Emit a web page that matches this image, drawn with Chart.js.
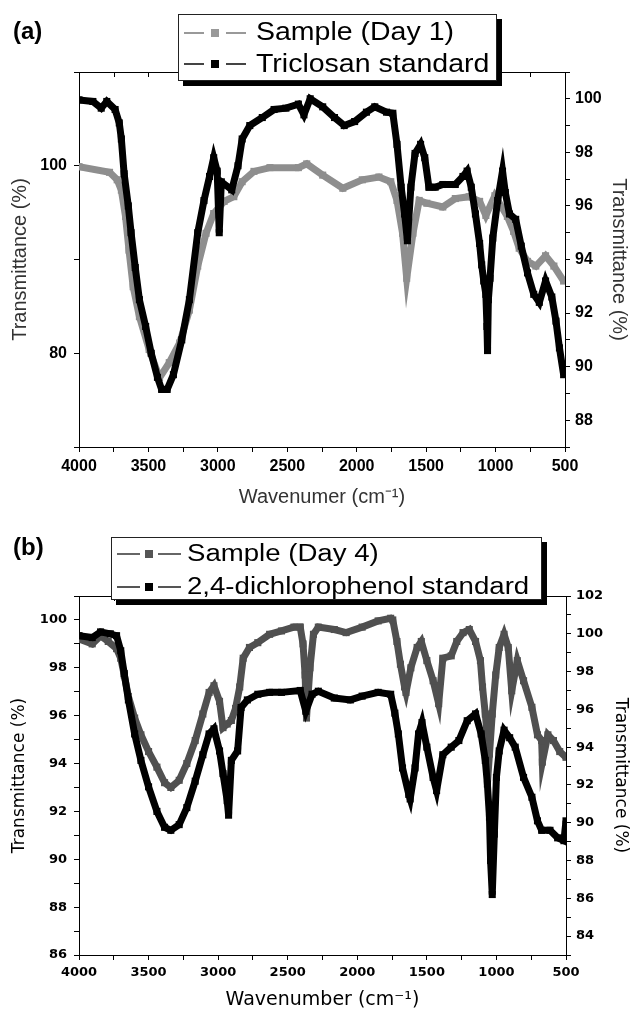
<!DOCTYPE html>
<html>
<head>
<meta charset="utf-8">
<script src="https://cdn.jsdelivr.net/npm/chart.js@4.4.0/dist/chart.umd.min.js"></script>
<style>
  body { margin: 0; background: #fff; width: 632px; height: 1011px; position: relative; overflow: hidden; font-family: "Liberation Sans", Arial, sans-serif; }
  canvas { position: absolute; left: 0; }
  #chartA { top: 0; }
  #chartB { top: 500px; }
  .tag { position: absolute; font-weight: bold; font-size: 24px; line-height: 1; color: #000; }
  .legend { position: absolute; box-sizing: border-box; background: #fff; border: 1px solid #222; box-shadow: 5px 5px 0 #000; z-index: 2; }
  .legend i { position: absolute; display: block; }
  .legend span { position: absolute; white-space: nowrap; line-height: 1; transform-origin: 0 0; color: #000; }
</style>
</head>
<body>
<canvas id="chartA" width="632" height="510"></canvas>
<canvas id="chartB" width="632" height="511"></canvas>

<div class="tag" style="left:13px; top:19px;">(a)</div>
<div class="tag" style="left:13px; top:535px;">(b)</div>

<div class="legend" style="left:178px; top:14px; width:319px; height:67px;">
  <i style="left:5px; top:17px; width:20px; height:1.5px; background:#999;"></i>
  <i style="left:32px; top:14px; width:8px; height:8px; background:#999;"></i>
  <i style="left:47px; top:17px; width:20px; height:1.5px; background:#999;"></i>
  <span style="left:77px; top:4px; font-size:25px; transform:scaleX(1.14);">Sample (Day 1)</span>
  <i style="left:5px; top:48px; width:20px; height:1.5px; background:#444;"></i>
  <i style="left:32px; top:45px; width:8px; height:8px; background:#000;"></i>
  <i style="left:47px; top:48px; width:20px; height:1.5px; background:#444;"></i>
  <span style="left:77px; top:36px; font-size:25px; transform:scaleX(1.14);">Triclosan standard</span>
</div>

<div class="legend" style="left:111px; top:537px; width:431px; height:63px;">
  <i style="left:5px; top:15px; width:23px; height:1.5px; background:#666;"></i>
  <i style="left:33px; top:12px; width:8px; height:8px; background:#555;"></i>
  <i style="left:46px; top:15px; width:23px; height:1.5px; background:#666;"></i>
  <span style="left:75px; top:4px; font-size:23px; transform:scaleX(1.2);">Sample (Day 4)</span>
  <i style="left:5px; top:48px; width:23px; height:1.5px; background:#555;"></i>
  <i style="left:33px; top:45px; width:8px; height:8px; background:#000;"></i>
  <i style="left:46px; top:48px; width:23px; height:1.5px; background:#555;"></i>
  <span style="left:75px; top:37px; font-size:23px; transform:scaleX(1.2);">2,4-dichlorophenol standard</span>
</div>

<script>
// panel (a): Sample (Day 1) on the left axis, triclosan standard on the right axis
const day1Wn = [4000, 3780, 3725, 3695, 3665, 3640, 3610, 3565, 3495, 3420, 3350, 3275, 3205, 3145, 3085, 3030, 2955, 2885, 2825, 2740, 2625, 2420, 2360, 2245, 2100, 1960, 1840, 1755, 1710, 1670, 1640, 1595, 1550, 1495, 1380, 1290, 1190, 1115, 1070, 1005, 915, 870, 830, 770, 710, 640, 580, 510];
const day1T = [99.9, 99.3, 98.5, 97.4, 94.6, 91.0, 87.1, 83.9, 80.4, 77.4, 79.0, 81.1, 84.6, 89.3, 92.8, 94.9, 96.2, 96.7, 98.3, 99.4, 99.8, 99.8, 100.2, 99.0, 97.6, 98.5, 98.8, 98.3, 96.3, 92.8, 88.0, 92.8, 96.3, 96.0, 95.6, 96.5, 96.7, 96.2, 94.7, 96.8, 94.6, 93.0, 91.2, 89.8, 89.3, 90.4, 89.3, 87.7];

const triclosanWn = [4000, 3900, 3840, 3800, 3740, 3710, 3695, 3675, 3645, 3625, 3595, 3565, 3520, 3480, 3435, 3405, 3365, 3320, 3260, 3205, 3145, 3100, 3060, 3030, 3005, 2990, 2975, 2900, 2855, 2825, 2770, 2680, 2595, 2510, 2420, 2380, 2335, 2245, 2160, 2090, 2015, 1930, 1870, 1785, 1740, 1710, 1680, 1655, 1635, 1610, 1580, 1540, 1510, 1480, 1435, 1380, 1290, 1235, 1205, 1175, 1145, 1115, 1100, 1085, 1070, 1062, 1058, 1052, 1040, 1020, 985, 950, 930, 900, 855, 815, 770, 725, 685, 640, 595, 565, 540, 510];
const triclosanT = [99.96, 99.9, 99.65, 99.9, 99.6, 99.1, 98.5, 97.2, 96.0, 95.0, 93.7, 92.5, 91.5, 90.5, 89.6, 89.15, 89.15, 89.7, 91.0, 92.5, 95.0, 96.2, 97.1, 97.8, 97.3, 95.0, 96.9, 96.6, 97.5, 98.5, 99.0, 99.3, 99.6, 99.65, 99.8, 99.4, 100.0, 99.7, 99.3, 99.0, 99.15, 99.5, 99.7, 99.5, 99.46, 98.3, 96.7, 95.7, 94.7, 96.7, 97.96, 98.3, 97.8, 96.7, 96.7, 96.8, 96.8, 97.1, 97.3, 96.7, 95.7, 94.6, 93.8, 93.2, 92.7, 91.5, 90.6, 92.5, 93.3, 94.8, 96.2, 97.3, 96.5, 95.7, 95.5, 94.5, 93.5, 92.7, 92.4, 93.2, 92.6, 91.7, 90.7, 89.7];

// panel (b): Sample (Day 4) on the left axis, 2,4-dichlorophenol standard on the right axis
const day4Wn = [4000, 3905, 3845, 3790, 3730, 3700, 3675, 3645, 3600, 3555, 3500, 3440, 3385, 3340, 3280, 3225, 3165, 3110, 3065, 3030, 2990, 2965, 2935, 2905, 2875, 2845, 2820, 2775, 2715, 2630, 2545, 2455, 2410, 2390, 2375, 2365, 2340, 2315, 2280, 2165, 2080, 1965, 1850, 1760, 1745, 1715, 1690, 1660, 1650, 1615, 1570, 1540, 1500, 1455, 1415, 1385, 1325, 1285, 1240, 1195, 1150, 1115, 1100, 1080, 1060, 1050, 1030, 1005, 980, 945, 915, 890, 850, 805, 745, 705, 675, 670, 630, 590, 545, 500];
const day4T = [99.2, 99.0, 99.33, 99.1, 98.8, 98.4, 97.7, 96.8, 95.9, 95.2, 94.5, 93.85, 93.2, 93.0, 93.3, 94.0, 94.96, 96.07, 96.97, 97.25, 96.6, 95.5, 95.65, 95.8, 96.3, 97.2, 98.4, 98.85, 99.05, 99.4, 99.54, 99.7, 99.7, 99.0, 97.7, 95.9, 98.0, 99.4, 99.7, 99.6, 99.47, 99.7, 99.96, 100.07, 100.0, 99.1, 98.15, 97.2, 96.97, 98.0, 98.85, 99.1, 98.3, 97.46, 96.5, 98.4, 98.5, 99.1, 99.47, 99.6, 99.1, 98.3, 97.2, 96.07, 94.8, 94.4, 96.07, 97.7, 98.85, 99.4, 98.85, 97.04, 98.3, 97.46, 96.35, 95.2, 94.96, 94.06, 95.2, 94.96, 94.5, 94.26];

const dcpWn = [4000, 3905, 3845, 3775, 3730, 3700, 3675, 3645, 3600, 3555, 3500, 3440, 3385, 3340, 3280, 3225, 3165, 3110, 3065, 3030, 2990, 2965, 2935, 2925, 2905, 2860, 2835, 2790, 2715, 2630, 2545, 2410, 2370, 2325, 2280, 2165, 2050, 1965, 1850, 1760, 1730, 1705, 1675, 1630, 1620, 1585, 1560, 1535, 1500, 1455, 1430, 1385, 1325, 1270, 1210, 1150, 1110, 1080, 1065, 1050, 1042, 1030, 1015, 1000, 980, 945, 905, 865, 805, 745, 705, 675, 615, 560, 515, 500];
const dcpT = [99.9, 99.8, 100.1, 100.0, 99.9, 99.1, 97.9, 96.5, 94.7, 93.3, 91.9, 90.6, 89.76, 89.6, 89.9, 90.8, 92.2, 93.6, 94.7, 94.97, 93.8, 92.6, 91.17, 90.4, 93.3, 93.8, 96.1, 96.5, 96.8, 96.9, 96.9, 97.0, 95.9, 96.8, 96.96, 96.6, 96.5, 96.7, 96.9, 96.8, 95.8, 94.7, 92.9, 91.5, 91.26, 92.9, 94.7, 95.3, 94.0, 92.4, 91.7, 93.6, 94.0, 94.35, 95.4, 95.76, 94.7, 93.3, 92.05, 90.3, 88.0, 86.2, 89.4, 92.4, 93.8, 94.9, 94.5, 94.0, 92.4, 91.35, 90.1, 89.6, 89.6, 89.2, 89.05, 90.1];

// labelled ticks
const wnTickLabels = [4000, 3500, 3000, 2500, 2000, 1500, 1000, 500];
const leftTicksA = [80, 100];
const rightTicksA = [88, 90, 92, 94, 96, 98, 100];
const leftTicksB = [86, 88, 90, 92, 94, 96, 98, 100];
const rightTicksB = [84, 86, 88, 90, 92, 94, 96, 98, 100, 102];

function pts(wn, t) {
  return wn.map((w, i) => ({ x: w, y: t[i] }));
}

// top frame line with inward ticks
const framePlugin = {
  id: "frame",
  afterDraw(chart) {
    const { ctx, chartArea: a, scales } = chart;
    const x = scales.x;
    ctx.save();
    ctx.strokeStyle = "#000";
    ctx.lineWidth = 1;
    ctx.beginPath();
    ctx.moveTo(a.left, a.top + 0.5);
    ctx.lineTo(a.right, a.top + 0.5);
    x.ticks.forEach((t) => {
      const px = Math.round(x.getPixelForValue(t.value)) + 0.5;
      ctx.moveTo(px, a.top);
      ctx.lineTo(px, a.top + 5);
    });
    ctx.stroke();
    ctx.restore();
  },
};

function series(label, data, color, axis, order) {
  return {
    label: label,
    data: data,
    yAxisID: axis,
    borderColor: color,
    backgroundColor: color,
    borderWidth: 7,
    pointStyle: "rect",
    pointRadius: 5,
    pointBorderWidth: 0,
    pointBackgroundColor: color,
    tension: 0,
    order: order,
  };
}

function makeChart(id, p) {
  const tickFont = p.tickFont;
  return new Chart(document.getElementById(id), {
    type: "line",
    data: { datasets: p.datasets },
    options: {
      responsive: false,
      animation: false,
      devicePixelRatio: 1,
      layout: { padding: { top: p.top, left: 0, right: 0, bottom: 0 } },
      plugins: { legend: { display: false }, tooltip: { enabled: false } },
      scales: {
        x: {
          type: "linear",
          reverse: true,
          min: 500,
          max: 4000,
          ticks: {
            stepSize: 250,
            autoSkip: false,
            maxRotation: 0,
            padding: p.xPad,
            color: "#000",
            font: tickFont,
            callback: (v) => (wnTickLabels.includes(v) ? v : ""),
          },
          grid: { drawOnChartArea: false, tickLength: 5, color: "#000" },
          border: { color: "#000", width: 1 },
          title: { display: true, text: p.xTitle, color: p.titleColor, font: p.xTitleFont, padding: { top: 0, bottom: p.xTitlePad } },
          afterFit: (s) => { s.height = p.xHeight; },
        },
        y: {
          position: "left",
          min: p.left[0],
          max: p.left[1],
          ticks: {
            stepSize: p.left[2],
            autoSkip: false,
            padding: 7,
            color: "#000",
            font: tickFont,
            callback: (v) => (p.leftTicks.includes(v) ? v : ""),
          },
          grid: { drawOnChartArea: false, tickLength: 5, color: "#000" },
          border: { color: "#000", width: 1 },
          title: { display: true, text: "Transmittance (%)", color: p.titleColor, font: p.yTitleFont, padding: { top: p.yTitlePad, bottom: 0 } },
          afterFit: (s) => { s.width = 79; },
        },
        y1: {
          position: "right",
          min: p.right[0],
          max: p.right[1],
          ticks: {
            stepSize: 1,
            autoSkip: false,
            padding: 5,
            color: "#000",
            font: tickFont,
            callback: (v) => (p.rightTicks.includes(v) ? v : ""),
          },
          grid: { drawOnChartArea: false, tickLength: 5, color: "#000" },
          border: { color: "#000", width: 1 },
          title: { display: true, text: "Transmittance (%)", color: p.titleColor, font: p.yTitleFont, padding: { top: 1, bottom: 0 } },
          afterFit: (s) => { s.width = p.rightWidth; },
        },
      },
    },
    plugins: [framePlugin],
  });
}

makeChart("chartA", {
  datasets: [
    series("Sample (Day 1)", pts(day1Wn, day1T), "#8e8e8e", "y", 1),
    series("Triclosan standard", pts(triclosanWn, triclosanT), "#000", "y1", 0),
  ],
  top: 72,
  xHeight: 63,
  rightWidth: 67,
  xPad: 5,
  left: [70, 110, 10],
  right: [87, 101],
  leftTicks: leftTicksA,
  rightTicks: rightTicksA,
  tickFont: { family: "'Liberation Sans', Arial, sans-serif", size: 16, weight: "bold" },
  xTitle: "Wavenumer (cm\u207B\u00B9)",
  titleColor: "#333",
  xTitleFont: { family: "'Liberation Sans', Arial, sans-serif", size: 20 },
  yTitleFont: { family: "'Liberation Sans', Arial, sans-serif", size: 20 },
  xTitlePad: 1,
  yTitlePad: 8,
});

makeChart("chartB", {
  datasets: [
    series("Sample (Day 4)", pts(day4Wn, day4T), "#505050", "y", 1),
    series("2,4-dichlorophenol standard", pts(dcpWn, dcpT), "#000", "y1", 0),
  ],
  top: 96,
  xHeight: 56,
  rightWidth: 66,
  xPad: 5,
  left: [86, 101, 1],
  right: [83, 102],
  leftTicks: leftTicksB,
  rightTicks: rightTicksB,
  tickFont: { family: "'DejaVu Sans', Verdana, sans-serif", size: 13, weight: "bold" },
  xTitle: "Wavenumber (cm\u207B\u00B9)",
  titleColor: "#000",
  xTitleFont: { family: "'DejaVu Sans', Verdana, sans-serif", size: 19 },
  yTitleFont: { family: "'DejaVu Sans', Verdana, sans-serif", size: 17 },
  xTitlePad: 0,
  yTitlePad: 9,
});
</script>
</body>
</html>
